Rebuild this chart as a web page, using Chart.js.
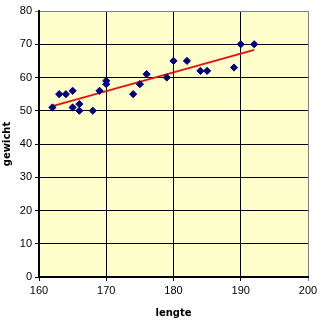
<!DOCTYPE html>
<html>
<head>
<meta charset="utf-8">
<script src="https://cdn.jsdelivr.net/npm/chart.js@4"></script>
<style>
html,body{margin:0;padding:0;background:#fff;}
#wrap{width:321px;height:320px;position:relative;}
</style>
</head>
<body>
<div id="wrap"><canvas id="c" width="321" height="320"></canvas></div>
<script>
const lengte = [162,163,164,165,165,166,166,168,169,170,170,174,175,176,179,180,182,184,185,189,190,192];
const gewicht = [51,55,55,56,51,52,50,50,56,59,58,55,58,61,60,65,65,62,62,63,70,70];
const trendX = [162,192];
const trendY = [51.4,68.3];
const xTicks = [160,170,180,190,200];
const yTicks = [0,10,20,30,40,50,60,70,80];

const points = lengte.map((x,i)=>({x:x,y:gewicht[i]}));
const trend = trendX.map((x,i)=>({x:x,y:trendY[i]}));

const plotBg = {
  id:'plotBg',
  beforeDraw(chart){
    const {ctx, chartArea:a} = chart;
    ctx.save();
    ctx.fillStyle = '#FFFFCC';
    ctx.fillRect(a.left, a.top, a.right-a.left, a.bottom-a.top);
    ctx.restore();
  }
};

new Chart(document.getElementById('c'), {
  type:'scatter',
  data:{
    datasets:[
      {type:'line', data:trend, borderColor:'#E8100C', borderWidth:2, pointRadius:0, fill:false, order:2},
      {data:points, backgroundColor:'#000080', borderColor:'#000080', pointStyle:'rectRot', pointRadius:3.6, pointHoverRadius:3.6, order:1}
    ]
  },
  options:{
    responsive:false,
    animation:false,
    events:[],
    layout:{padding:{top:11,right:13,left:0,bottom:0}},
    plugins:{legend:{display:false}, tooltip:{enabled:false}},
    scales:{
      x:{
        type:'linear', min:160, max:200,
        afterBuildTicks(s){ s.ticks = xTicks.map(v=>({value:v})); },
        afterFit(s){ s.height = 43; },
        grid:{
          color:(c)=> c.tick && c.tick.value===200 ? '#808080' : '#000000',
          lineWidth:1, tickLength:4, drawTicks:true
        },
        border:{color:'#000000', width:2},
        ticks:{color:'#000000', font:{family:'Liberation Sans', size:11}, padding:3, maxRotation:0},
        title:{display:true, text:'lengte', color:'#000000', font:{family:'DejaVu Sans', size:10, weight:'bold'}, padding:{top:4,bottom:1}}
      },
      y:{
        type:'linear', min:0, max:80,
        afterBuildTicks(s){ s.ticks = yTicks.map(v=>({value:v})); },
        afterFit(s){ s.width = 39; },
        grid:{
          color:(c)=> c.tick && c.tick.value===80 ? '#808080' : '#000000',
          lineWidth:1, tickLength:4, drawTicks:true
        },
        border:{color:'#000000', width:2},
        ticks:{color:'#000000', font:{family:'Liberation Sans', size:11}, padding:3},
        title:{display:true, text:'gewicht', color:'#000000', font:{family:'DejaVu Sans', size:10, weight:'bold'}, padding:{top:1,bottom:4}}
      }
    }
  },
  plugins:[plotBg]
});
</script>
</body>
</html>
